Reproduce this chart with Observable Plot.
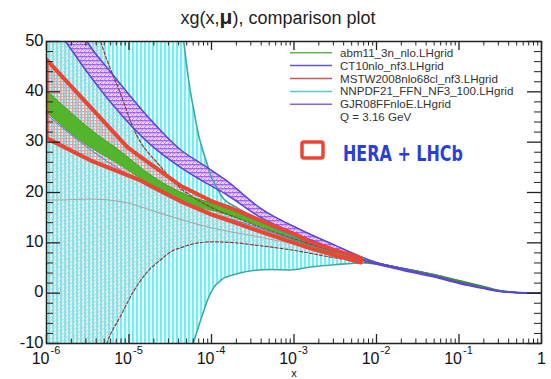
<!DOCTYPE html>
<html><head><meta charset="utf-8">
<script src="https://cdn.jsdelivr.net/npm/d3@7"></script>
<script src="https://cdn.jsdelivr.net/npm/@observablehq/plot@0.6"></script>
<style>body{margin:0;background:#fff} svg{display:block}</style>
</head><body><div id="chart"></div>
<script>
// ---- data: xg(x, mu) at Q = 3.16 GeV ----
// NNPDF21 band
const nnX  = [1e-6,1e-5,2.51e-5,3.55e-5,4.61e-5,5.62e-5,6.0e-5,7.0e-5,8.07e-5,8.87e-5,1.02e-4,1.07e-4,1.29e-4,1.35e-4,2.04e-4,3.16e-4,5.19e-4,9.08e-4,1.58e-3,3.31e-3,6.92e-3,1e-2,2e-2,5e-2,0.1,0.2,0.3,0.5,0.7,1];
const nnHi = [300,170,100,68,50,39.5,37,31.3,27.7,25.6,22.6,22.0,19.6,19.1,17.0,15.2,13.3,11.3,9.8,8.0,6.7,6.0,5.0,3.7,2.5,1.3,0.55,0.15,0.05,0];
const nnLo = [-150,-60,-30,-21,-15.5,-11.5,-10,-6.5,-3.5,-1.5,0.6,1.2,2.5,2.8,3.85,4.5,4.7,4.6,5.2,5.7,6.0,5.75,4.8,3.5,2.3,1.15,0.45,0.12,0.04,0];
// MSTW2008 band
const msX  = [1e-6,2.51e-6,4.52e-6,5.37e-6,7.94e-6,1.15e-5,1.38e-5,1.66e-5,2.29e-5,3.55e-5,4.21e-5,5.13e-5,1e-4,2e-4,3.16e-4,5.01e-4,1e-3,3.16e-3,1e-2,2e-2,5e-2,0.1,0.2,0.3,0.5,0.7,1];
const msHi = [85,62,50,46.5,39.5,32.5,30,28.2,25.6,22,20.8,19.8,17,15,13.7,12.5,10.8,8.2,6.0,5.0,3.65,2.45,1.25,0.55,0.15,0.05,0];
const msLo = [-50,-25,-14,-10,-4.5,0.5,2.5,4.2,6.3,8.6,9.0,9.5,10.2,10.0,9.6,9.2,8.5,7.0,5.8,4.85,3.55,2.35,1.15,0.5,0.12,0.04,0];
const msCX = [1e-6,1.35e-6,3.41e-6,8.57e-6,2.19e-5,5.56e-5,1e-4,3.16e-4,1e-3,3.16e-3,1e-2];
const msC  = [18.5,18.5,18.7,18.1,16.1,14.1,13.0,11.4,9.8,7.9,6.0];
// GJR08 band
const gjX  = [1e-6,1.70e-6,3.09e-6,6.31e-6,1.82e-5,4.21e-5,7.94e-5,1.48e-4,3.98e-4,1.20e-3,3.16e-3,6.31e-3,1e-2,2e-2,5e-2,0.1,0.2,0.3,0.5,0.7,1];
const gjHi = [68,58,50,43.5,34.5,28.5,25.5,22.5,16.8,12.6,9.5,7.3,6.1,4.9,3.4,2.1,1.0,0.45,0.1,0.03,0];
const gjLo = [55,50,44,37.5,29.5,25,22.2,19.7,15.0,11.4,8.7,6.8,5.8,4.6,3.2,1.9,0.9,0.4,0.08,0.02,0];
// abm11 band
const abX  = [1e-6,3.16e-6,3.89e-6,7.59e-6,1.82e-5,5.56e-5,1.17e-4,3.16e-4,1e-3,3.16e-3,1e-2,2e-2,5e-2,0.1,0.2,0.3,0.5,0.7,1];
const abHi = [40.3,33.0,31.8,28.4,23.5,19.2,17.6,14.8,11.3,8.3,6.05,5.0,3.65,2.45,1.25,0.55,0.15,0.05,0];
const abLo = [36.0,29.3,28.4,25.6,21.5,17.5,16.2,13.8,10.6,7.9,5.85,4.85,3.55,2.35,1.15,0.5,0.12,0.04,0];
// CT10 central (thin blue)
const ctX  = [1e-6,3.55e-6,1.82e-5,5.56e-5,1.26e-4,3.16e-4,1e-3,3.16e-3,1e-2];
const ctC  = [35.5,28.3,21.0,17.2,15.4,13.4,10.5,7.8,5.95];
// HERA + LHCb band (red outline)
const hlX  = [1e-6,3.39e-6,9.55e-6,1.38e-5,2.0e-5,4.17e-5,1e-4,2e-4,3.98e-4,1e-3,1.58e-3,3.16e-3,6.46e-3];
const hlHi = [46.4,37.0,29.0,27.1,25.2,21.4,18.3,16.5,14.4,11.8,10.2,8.5,7.0];
const hlLo = [30.8,26.4,23.45,22.4,21.0,18.3,15.6,13.9,12.2,10.0,8.9,7.5,6.1];

const legendNames  = ["abm11_3n_nlo.LHgrid","CT10nlo_nf3.LHgrid","MSTW2008nlo68cl_nf3.LHgrid","NNPDF21_FFN_NF3_100.LHgrid","GJR08FFnloE.LHgrid"];
const legendColors = ["#66b255","#5a5ad6","#c25a55","#5cc9c4","#8d62e0"];
const xDecadeExp = [-6,-5,-4,-3,-2,-1];
const yMajor = [-10,0,10,20,30,40,50];

// ---- tables ----
const band = (xs, lo, hi) => xs.map((x, i) => ({x, lo: lo[i], hi: hi[i]}));
const line = (xs, ys) => xs.map((x, i) => ({x, y: ys[i]}));
const nn = band(nnX, nnLo, nnHi), ms = band(msX, msLo, msHi), gj = band(gjX, gjLo, gjHi),
      ab = band(abX, abLo, abHi), hl = band(hlX, hlLo, hlHi);
const hlPoly = [...hl.map(d => ({x: d.x, y: d.hi})), ...hl.slice().reverse().map(d => ({x: d.x, y: d.lo})), {x: hl[0].x, y: hl[0].hi}];
const xMajor = [...xDecadeExp.map(e => Math.pow(10, e)), 1];
const xMinor = [];
xDecadeExp.forEach(e => { for (let k = 2; k <= 9; k++) xMinor.push(k * Math.pow(10, e)); });
const yMinor = d3.range(-10, 51, 2).filter(v => v % 10 !== 0);

const W = 551, H = 379, ML = 46, MR = 10, MT = 41, MB = 36;
const FW = W - ML - MR, FH = H - MT - MB;

const C = "monotone-x";
const edge = (data, key, opts) => Plot.line(data, {x: "x", y: key, curve: C, clip: true, ...opts});
const xTicks = (vals, len, sw) => [
  Plot.ruleX(vals, {x: d => d, insetTop: FH - len, stroke: "#222", strokeWidth: sw}),
  Plot.ruleX(vals, {x: d => d, insetBottom: FH - len, stroke: "#222", strokeWidth: sw})
];
const yTicks = (vals, len, sw) => [
  Plot.ruleY(vals, {y: d => d, insetRight: FW - len, stroke: "#222", strokeWidth: sw}),
  Plot.ruleY(vals, {y: d => d, insetLeft: FW - len, stroke: "#222", strokeWidth: sw})
];

const chart = Plot.plot({
  width: W, height: H,
  marginLeft: ML, marginRight: MR, marginTop: MT, marginBottom: MB,
  style: {fontFamily: "'Liberation Sans', Arial, sans-serif", background: "white", color: "#111"},
  x: {type: "log", domain: [1e-6, 1], axis: null},
  y: {domain: [-10, 50], axis: null},
  marks: [
    Plot.areaY(nn, {x: "x", y1: "lo", y2: "hi", curve: C, fill: "url(#pNN)", clip: true}),
    Plot.areaY(ms, {x: "x", y1: "lo", y2: "hi", curve: C, fill: "url(#pMS)", clip: true}),
    Plot.areaY(hl, {x: "x", y1: "lo", y2: "hi", fill: "url(#pHL)", clip: true}),
    Plot.areaY(gj, {x: "x", y1: "lo", y2: "hi", curve: C, fill: "url(#pGJ)", clip: true}),
    Plot.areaY(ab, {x: "x", y1: "lo", y2: "hi", curve: C, fill: "#52b52c", clip: true}),
    edge(nn, "hi", {stroke: "#3da8a3", strokeWidth: 1.6}),
    edge(nn, "lo", {stroke: "#3da8a3", strokeWidth: 1.6}),
    edge(line(msCX, msC), "y", {stroke: "#a8a8a8", strokeWidth: 1.1}),
    edge(line(ctX, ctC), "y", {stroke: "#6a6ad8", strokeWidth: 0.9}),
    edge(ms, "hi", {stroke: "#8c3b3b", strokeWidth: 1.2, strokeDasharray: "3,2"}),
    edge(ms, "lo", {stroke: "#8c3b3b", strokeWidth: 1.2, strokeDasharray: "3,2"}),
    edge(ab, "hi", {stroke: "#3e9a22", strokeWidth: 0.8}),
    edge(ab, "lo", {stroke: "#3e9a22", strokeWidth: 0.8}),
    edge(gj, "hi", {stroke: "#5b45d6", strokeWidth: 1.5}),
    edge(gj, "lo", {stroke: "#5b45d6", strokeWidth: 1.5}),
    Plot.line(hlPoly, {x: "x", y: "y", stroke: "#ee4433", strokeWidth: 4, strokeLinejoin: "round", clip: true}),
    // inward ticks on all four sides
    ...xTicks(xMajor, 9, 1.3),
    ...xTicks(xMinor, 4.5, 1),
    ...yTicks(yMajor, 14, 1.3),
    ...yTicks(yMinor, 7, 1),
    Plot.frame({stroke: "#222", strokeWidth: 1.5}),
    // y tick labels
    Plot.text(yMajor, {y: d => d, text: d => d < 0 ? "-" + Math.abs(d) : String(d), frameAnchor: "left", textAnchor: "end", dx: -3, dy: -1, fontSize: 16.5}),
    // x tick labels 10^n
    Plot.text(xDecadeExp, {x: e => Math.pow(10, e), text: () => "10", frameAnchor: "bottom", lineAnchor: "bottom", textAnchor: "end", dx: 3, dy: 20.5, fontSize: 16}),
    Plot.text(xDecadeExp, {x: e => Math.pow(10, e), text: e => "-" + Math.abs(e), frameAnchor: "bottom", lineAnchor: "bottom", textAnchor: "start", dx: 4, dy: 10, fontSize: 11}),
    Plot.text([1], {x: d => d, text: () => "1", frameAnchor: "bottom", lineAnchor: "bottom", dy: 20.5, fontSize: 16}),
    Plot.text([1e-3], {x: d => d, text: () => "x", frameAnchor: "bottom", lineAnchor: "bottom", dy: 33.5, fontSize: 11})
  ]
});

const svg = d3.select(chart);
const defs = svg.insert("defs", ":first-child");
const pNN = defs.append("pattern").attr("id", "pNN").attr("patternUnits", "userSpaceOnUse").attr("width", 4).attr("height", 8);
pNN.append("rect").attr("width", 2.2).attr("height", 8).attr("fill", "#72eff4");
const pMS = defs.append("pattern").attr("id", "pMS").attr("patternUnits", "userSpaceOnUse").attr("width", 5).attr("height", 5).attr("patternTransform", "rotate(45)");
pMS.append("line").attr("x1", 0.5).attr("y1", 0).attr("x2", 0.5).attr("y2", 5).attr("stroke", "#8fdfe4").attr("stroke-width", 1.3);
pMS.append("line").attr("x1", 3).attr("y1", 0).attr("x2", 3).attr("y2", 5).attr("stroke", "#d4b8b8").attr("stroke-width", 0.9);
const pHL = defs.append("pattern").attr("id", "pHL").attr("patternUnits", "userSpaceOnUse").attr("width", 3).attr("height", 3);
pHL.append("path").attr("d", "M0 0.5H3M0.5 0V3").attr("stroke", "#dca0a0").attr("stroke-width", 0.9);
const pGJ = defs.append("pattern").attr("id", "pGJ").attr("patternUnits", "userSpaceOnUse").attr("width", 4).attr("height", 4);
pGJ.append("rect").attr("width", 4).attr("height", 4).attr("fill", "#e4cdfb");
pGJ.append("path").attr("d", "M0 0.6H4").attr("stroke", "#a15ef0").attr("stroke-width", 1.3);
pGJ.append("path").attr("d", "M0 4L4 0").attr("stroke", "#b27af2").attr("stroke-width", 0.8);

// title
const t = svg.append("text").attr("x", 278).attr("y", 24).attr("text-anchor", "middle")
  .attr("font-size", 18).attr("fill", "#222").attr("font-family", "'Liberation Sans', Arial, sans-serif");
t.append("tspan").text("xg(x,");
t.append("tspan").attr("font-weight", "bold").attr("font-size", 21).text("\u03bc");
t.append("tspan").text("), comparison plot");

// legend
const lg = svg.append("g").attr("font-family", "'Liberation Sans', Arial, sans-serif").attr("font-size", 11.6)
  .attr("fill", "#333").attr("text-anchor", "start");
legendNames.forEach((name, i) => {
  const y = 52.7 + i * 12.9;
  lg.append("line").attr("x1", 290).attr("x2", 332).attr("y1", y).attr("y2", y).attr("stroke", legendColors[i]).attr("stroke-width", 1.5);
  lg.append("text").attr("x", 340).attr("y", y).attr("dy", "0.35em").attr("text-anchor", "start").text(name);
});
lg.append("text").attr("x", 340).attr("y", 52.7 + 5 * 12.9).attr("dy", "0.35em").attr("text-anchor", "start").text("Q = 3.16 GeV");
lg.append("rect").attr("x", 302).attr("y", 142).attr("width", 21).attr("height", 16).attr("rx", 2)
  .attr("fill", "white").attr("stroke", "#ee4433").attr("stroke-width", 3.5);
lg.append("text").attr("x", 343).attr("y", 161).attr("font-size", 21).attr("font-weight", "bold")
  .attr("font-family", "'DejaVu Sans', sans-serif").attr("fill", "#2b3fd8").attr("text-anchor", "start")
  .attr("textLength", 120).attr("lengthAdjust", "spacingAndGlyphs").text("HERA + LHCb");

document.getElementById("chart").appendChild(chart);
</script></body></html>
